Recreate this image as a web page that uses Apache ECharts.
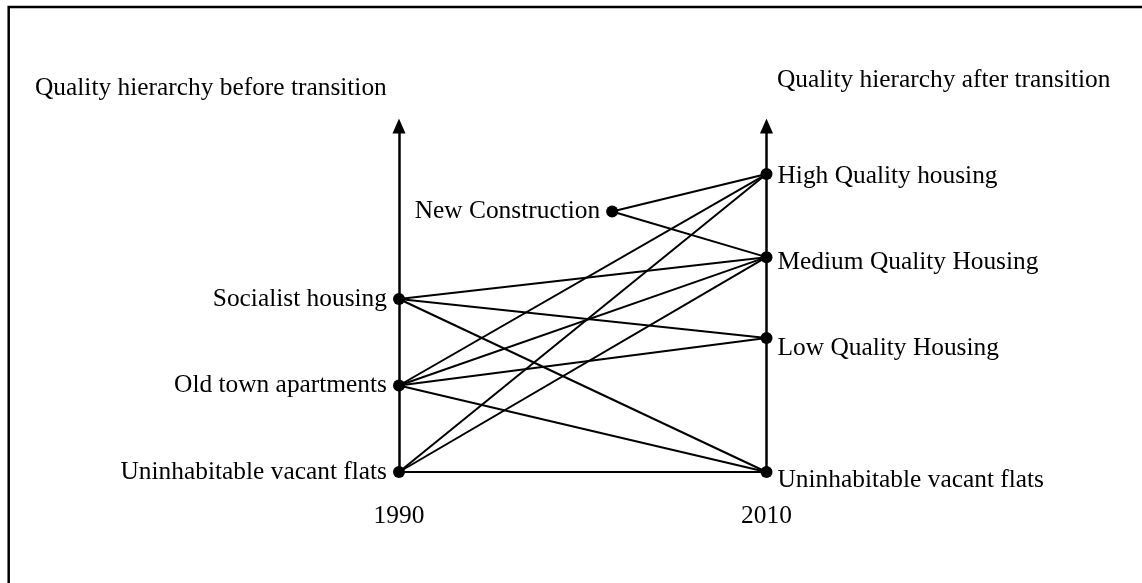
<!DOCTYPE html>
<html lang="en">
<head>
    <meta charset="UTF-8">
    <script src="https://cdn.jsdelivr.net/npm/echarts@6/dist/echarts.min.js"></script>
    <title>Housing quality transition</title>
    <style>
        html, body { margin: 0; padding: 0; background: #fff; }
    </style>
</head>
<body>
<div id="main" style="width: 1142px;height:583px;"></div>

<script type="text/javascript">
    // years on the horizontal axis
    var years = [1990, 2010];

    // 1990 housing types and their position on the quality scale
    var beforeTypes = ['Socialist housing', 'Old town apartments', 'Uninhabitable vacant flats'];
    var beforeLevel = [50, 25, 0];

    // 2010 housing types
    var afterTypes = ['High Quality housing', 'Medium Quality Housing', 'Low Quality Housing', 'Uninhabitable vacant flats'];
    var afterLevel = [86.1, 62.1, 38.7, 0];

    // new construction in between
    var newType = 'New Construction';
    var newYear = 2001.6;
    var newLevel = 75.3;

    // which 2010 types each source flows into (index into afterTypes)
    var beforeFlows = [[1, 2, 3], [0, 1, 2, 3], [0, 1, 3]];
    var newFlows = [0, 1];

    var font = 'Liberation Serif';
    var fontSize = 25.4;
    var labelOffsets = [[0, 2], [0, 5], [0, 10], [0, 8]];

    var nodes = [];
    var links = [];
    for (var i = 0; i < beforeTypes.length; i++) {
        nodes.push({
            name: 'b' + i,
            value: [years[0], beforeLevel[i]],
            label: {position: 'left', distance: 6, formatter: beforeTypes[i]}
        });
    }
    nodes.push({
        name: 'n',
        value: [newYear, newLevel],
        label: {position: 'left', distance: 6, formatter: newType}
    });
    for (var j = 0; j < afterTypes.length; j++) {
        nodes.push({
            name: 'a' + j,
            value: [years[1], afterLevel[j]],
            label: {position: 'right', distance: 5, offset: labelOffsets[j], formatter: afterTypes[j]}
        });
    }
    var afterStart = beforeTypes.length + 1;
    for (var i = 0; i < beforeFlows.length; i++) {
        for (var k = 0; k < beforeFlows[i].length; k++) {
            links.push({source: i, target: afterStart + beforeFlows[i][k]});
        }
    }
    for (var k = 0; k < newFlows.length; k++) {
        links.push({source: beforeTypes.length, target: afterStart + newFlows[k]});
    }

    var yAxisBase = {
        type: 'value',
        min: 0,
        max: 100,
        axisLine: {
            show: true,
            onZero: false,
            symbol: ['none', 'triangle'],
            symbolSize: [13, 15],
            lineStyle: {color: '#000', width: 2.5}
        },
        axisTick: {show: false},
        axisLabel: {show: false},
        splitLine: {show: false}
    };

    var myChart = echarts.init(document.getElementById('main'));
    var option = {
        animation: false,
        backgroundColor: '#fff',
        title: [
            {
                text: 'Quality hierarchy before transition',
                left: 35, top: 76, padding: 0,
                textStyle: {fontFamily: font, fontSize: fontSize, fontWeight: 'normal', color: '#000'}
            },
            {
                text: 'Quality hierarchy after transition',
                left: 777, top: 68, padding: 0,
                textStyle: {fontFamily: font, fontSize: fontSize, fontWeight: 'normal', color: '#000'}
            }
        ],
        graphic: [
            {
                type: 'polyline',
                shape: {points: [[8.7, 583], [8.7, 7], [1142, 7]]},
                style: {stroke: '#000', lineWidth: 2.5, fill: null},
                silent: true
            }
        ],
        grid: {
            left: 399,
            right: 375.5,
            top: 126,
            bottom: 111,
            containLabel: false
        },
        xAxis: {
            type: 'value',
            min: 1990,
            max: 2010,
            interval: 20,
            axisLine: {show: false},
            axisTick: {show: false},
            splitLine: {show: false},
            axisLabel: {
                margin: 32,
                fontFamily: font,
                fontSize: fontSize,
                color: '#000',
                formatter: function (v) { return String(v); }
            }
        },
        yAxis: [
            echarts.util.merge({position: 'left'}, yAxisBase, true),
            echarts.util.merge({position: 'right'}, yAxisBase, true)
        ],
        series: [
            {
                type: 'graph',
                coordinateSystem: 'cartesian2d',
                xAxisIndex: 0,
                yAxisIndex: 0,
                symbol: 'circle',
                symbolSize: 12,
                itemStyle: {color: '#000'},
                lineStyle: {color: '#000', width: 2, opacity: 1, curveness: 0},
                label: {
                    show: true,
                    fontFamily: font,
                    fontSize: fontSize,
                    color: '#000'
                },
                emphasis: {disabled: true},
                silent: true,
                data: nodes,
                links: links
            }
        ]
    };
    myChart.setOption(option);
</script>

</body>
</html>
